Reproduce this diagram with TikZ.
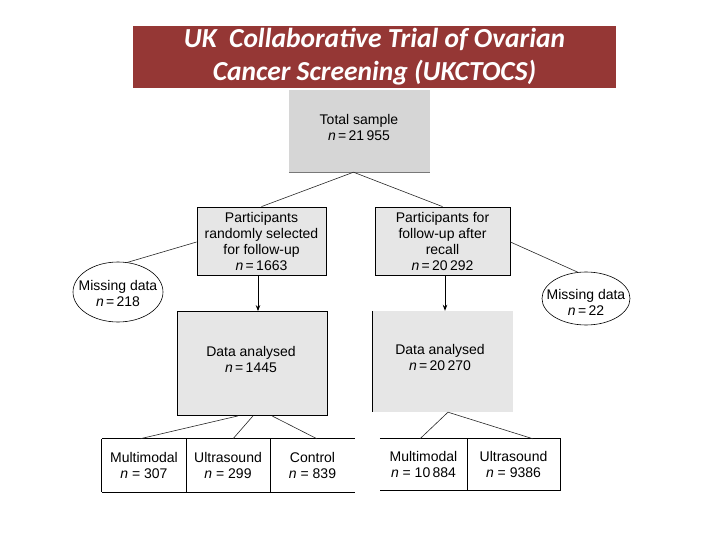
\documentclass[tikz,border=0pt]{standalone}
\usepackage{fontspec}
\setmainfont{Liberation Sans}
\newfontfamily\titlefont{Carlito}
\usetikzlibrary{shapes.geometric,arrows.meta,positioning}
\definecolor{titlered}{RGB}{149,55,53}
\definecolor{boxgray}{RGB}{214,214,214}
\definecolor{lightgray}{RGB}{230,230,230}
\definecolor{linegray}{RGB}{120,120,120}
\tikzset{
  x=1pt, y=-1pt,
  txt/.style={align=center, font=\fontsize{14}{16}\selectfont, inner sep=0pt},
  pbox/.style={txt, draw=black, line width=0.8pt, fill=lightgray},
  cell/.style={txt, minimum width=84pt, minimum height=53pt},
  ovl/.style={line width=0.6pt, draw=black, fill=white},
  conn/.style={line width=0.6pt, draw=black!85},
  arr/.style={line width=0.8pt, -{Stealth[length=6pt,width=4.5pt]}},
  edge/.style={line width=0.8pt, draw=black},
}
\newcommand{\nn}{\textit{n}}
\begin{document}
\begin{tikzpicture}
\useasboundingbox (0,0) rectangle (720,540);
% title
\node[fill=titlered, minimum width=483pt, minimum height=62pt, inner sep=0pt,
      text=white, align=center, font=\titlefont\bfseries\itshape\fontsize{27.5}{33}\selectfont]
  (title) at (374.5,57) {UK\ \ Collaborative Trial of Ovarian\\Cancer Screening (UKCTOCS)};
% total sample
\node[fill=boxgray, minimum width=141pt, minimum height=82pt, inner sep=0pt] (total) at (359.5,131) {};
\node[txt] (totalt) at (359,127) {Total sample\\\nn\,=\,21\,955};
\draw[line width=1pt, linegray] (total.south west) -- (total.south east);
% participant boxes
\node[pbox, minimum width=129pt, minimum height=68pt] (lp) at (261.5,241)
  {Participants\\randomly selected\\for follow-up\\\nn\,=\,1663};
\node[pbox, minimum width=135pt, minimum height=68pt] (rp) at (442.5,241)
  {Participants for\\follow-up after\\recall\\\nn\,=\,20\,292};
% missing data ellipses
\draw[ovl] (118,292) ellipse [x radius=45pt, y radius=30pt];
\node[txt] (lm) at (118,293) {Missing data\\\nn\,=\,218};
\draw[ovl] (586,298.5) ellipse [x radius=44pt, y radius=26.5pt];
\node[txt] (rm) at (586,302) {Missing data\\\nn\,=\,22};
\coordinate (lmtop) at (127,262.5);
\coordinate (rmtop) at (578,272.3);
% data analysed boxes
\node[pbox, minimum width=150pt, minimum height=104pt] (ld) at (252,363.5) {};
\node[txt] (ldt) at (251,359.5) {Data analysed\\\nn\,=\,1445};
\node[fill=lightgray, minimum width=140pt, minimum height=101pt, inner sep=0pt] (rd) at (443,361.5) {};
\node[txt] (rdt) at (440,357) {Data analysed\\\nn\,=\,20\,270};
\draw[edge] (rd.north west) -- (rd.south west);
% bottom cells, left group
\node[cell] (mm1) at (144,465.5) {Multimodal\\\nn\ =\ 307};
\node[cell] (us1) at (228,465.5) {Ultrasound\\\nn\ =\ 299};
\node[cell, minimum width=85pt] (ct1) at (312.5,465.5) {Control\\\nn\ =\ 839};
\draw[edge] (mm1.north west) -- (ct1.north east);
\draw[edge] (mm1.south west) -- (ct1.south east);
\draw[edge] (mm1.north west) -- (mm1.south west);
\draw[edge] (mm1.north east) -- (mm1.south east);
\draw[edge] (us1.north east) -- (us1.south east);
% bottom cells, right group
\node[cell, minimum width=87pt, minimum height=51pt] (mm2) at (423.5,464.5) {Multimodal\\\nn\ =\ 10\,884};
\node[cell, minimum width=93pt, minimum height=51pt] (us2) at (513.5,464.5) {Ultrasound\\\nn\ =\ 9386};
\draw[edge] (mm2.north west) -- (us2.north east) -- (us2.south east) -- (mm2.south west);
\draw[edge] (mm2.north east) -- (mm2.south east);
% connectors
\draw[conn] ([xshift=-6pt]total.south) -- (lp.north);
\draw[conn] ([xshift=-6pt]total.south) -- (rp.north);
\draw[conn] ([yshift=-1pt]lp.west) -- (lmtop);
\draw[conn] ([yshift=-1pt]rp.east) -- (rmtop);
\draw[arr] ([xshift=-3.5pt]lp.south) -- ([xshift=-3.5pt]lp.south |- ld.north);
\draw[arr] ([xshift=2.5pt]rp.south) -- ([xshift=2.5pt]rp.south |- rd.north);
\draw[conn] ([xshift=-14pt]ld.south) -- ([xshift=-4pt]mm1.north);
\draw[conn] ([xshift=1pt]ld.south) -- ([xshift=5pt]us1.north);
\draw[conn] ([xshift=20pt]ld.south) -- ([xshift=4.5pt]ct1.north);
\draw[conn] ([xshift=5pt]rd.south) -- ([xshift=-3.5pt]mm2.north);
\draw[conn] ([xshift=5pt]rd.south) -- ([xshift=19.5pt]us2.north);
\end{tikzpicture}
\end{document}
